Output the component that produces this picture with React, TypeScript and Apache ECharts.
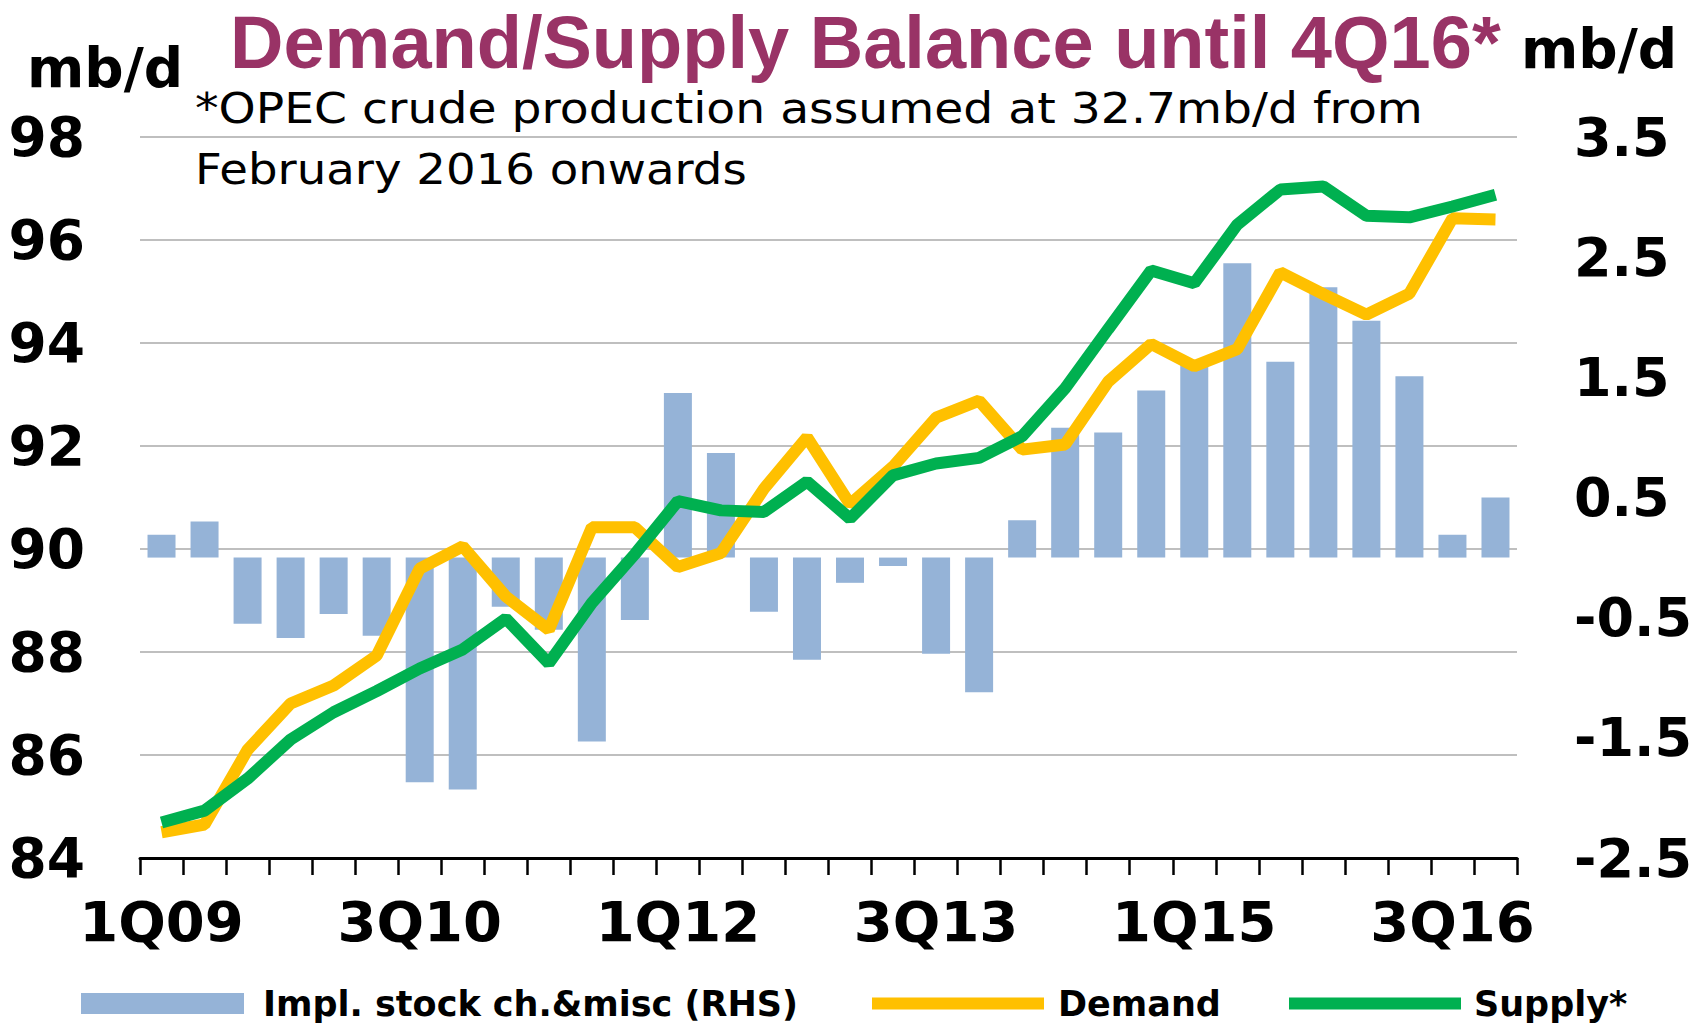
import React, { useEffect, useRef } from "react";
import * as echarts from "echarts";

// ---- Data ----
const quarters = [
  "1Q09", "2Q09", "3Q09", "4Q09",
  "1Q10", "2Q10", "3Q10", "4Q10",
  "1Q11", "2Q11", "3Q11", "4Q11",
  "1Q12", "2Q12", "3Q12", "4Q12",
  "1Q13", "2Q13", "3Q13", "4Q13",
  "1Q14", "2Q14", "3Q14", "4Q14",
  "1Q15", "2Q15", "3Q15", "4Q15",
  "1Q16", "2Q16", "3Q16", "4Q16",
];

// Implied stock change & misc (RHS), mb/d
const stockChange = [
  0.19, 0.3, -0.55, -0.67, -0.47, -0.65, -1.87, -1.93,
  -0.41, -0.6, -1.53, -0.52, 1.37, 0.87, -0.45, -0.85,
  -0.21, -0.07, -0.8, -1.12, 0.31, 1.08, 1.04, 1.39,
  1.62, 2.45, 1.63, 2.25, 1.97, 1.51, 0.19, 0.5,
];

// Demand (LHS), mb/d
const demand = [
  84.5, 84.65, 86.1, 87.0, 87.35, 87.93, 89.62, 90.05,
  89.08, 88.43, 90.42, 90.42, 89.65, 89.92, 91.17, 92.17,
  90.87, 91.6, 92.55, 92.88, 91.93, 92.03, 93.25, 93.98,
  93.55, 93.88, 95.37, 94.95, 94.55, 94.96, 96.42, 96.4,
];

// Supply* (LHS), mb/d
const supply = [
  84.69, 84.92, 85.54, 86.3, 86.83, 87.24, 87.68, 88.05,
  88.65, 87.78, 88.95, 89.9, 90.93, 90.75, 90.72, 91.31,
  90.59, 91.43, 91.66, 91.77, 92.19, 93.12, 94.27, 95.41,
  95.16, 96.3, 96.98, 97.04, 96.47, 96.44, 96.65, 96.88,
];

const leftAxisMin = 84;
const leftAxisMax = 98;
const leftAxisStep = 2;
const rightAxisMin = -2.5;
const rightAxisMax = 3.5;
const rightTickLabels = [-2.5, -1.5, -0.5, 0.5, 1.5, 2.5, 3.5];

const TITLE = "Demand/Supply Balance until 4Q16*";
const NOTE_LINE_1 = "*OPEC crude production assumed at 32.7mb/d from";
const NOTE_LINE_2 = "February 2016 onwards";
const UNIT = "mb/d";
const BAR_NAME = "Impl. stock ch.&misc (RHS)";
const DEMAND_NAME = "Demand";
const SUPPLY_NAME = "Supply*";

const FONT = "'DejaVu Sans', sans-serif";
const TITLE_FONT = "'Liberation Sans', Arial, sans-serif";

const BAR_COLOR = "#95B3D7";
const DEMAND_COLOR = "#FFC000";
const SUPPLY_COLOR = "#00B050";

export default function App() {
  const ref = useRef<HTMLDivElement | null>(null);

  useEffect(() => {
    if (!ref.current) return;
    const chart = echarts.init(ref.current, null, { renderer: "svg" });

    const legendText = {
      fontSize: 35,
      fontWeight: "bold",
      fontFamily: FONT,
      color: "#000",
    };

    const option: any = {
      animation: false,
      backgroundColor: "#ffffff",
      title: {
        text: TITLE,
        left: 230,
        top: 5,
        padding: 0,
        textStyle: {
          fontFamily: TITLE_FONT,
          fontSize: 74,
          fontWeight: "bold",
          color: "#993366",
        },
      },
      grid: { left: 140, right: 180, top: 137, bottom: 168, containLabel: false },
      xAxis: {
        type: "category",
        data: quarters,
        boundaryGap: true,
        axisLine: { show: true, onZero: false, lineStyle: { color: "#000", width: 3 } },
        axisTick: {
          show: true,
          interval: 0,
          alignWithLabel: false,
          length: 17,
          lineStyle: { color: "#000", width: 2.5 },
        },
        axisLabel: {
          interval: 5,
          margin: 35,
          fontSize: 56,
          fontWeight: "bold",
          fontFamily: FONT,
          color: "#000",
        },
        splitLine: { show: false },
      },
      yAxis: [
        {
          type: "value",
          position: "left",
          min: leftAxisMin,
          max: leftAxisMax,
          interval: leftAxisStep,
          axisLine: { show: false },
          axisTick: { show: false },
          axisLabel: {
            margin: 55,
            fontSize: 55,
            fontWeight: "bold",
            fontFamily: FONT,
            color: "#000",
          },
          splitLine: { show: true, lineStyle: { color: "#BFBFBF", width: 2 } },
        },
        {
          type: "value",
          position: "right",
          min: rightAxisMin,
          max: rightAxisMax,
          axisLine: { show: false },
          axisTick: { show: false },
          splitLine: { show: false },
          axisLabel: {
            customValues: rightTickLabels,
            formatter: (v: number) => v.toFixed(1),
            margin: 57,
            fontSize: 54,
            fontWeight: "bold",
            fontFamily: FONT,
            color: "#000",
          },
        },
      ],
      legend: [
        {
          data: [{ name: BAR_NAME, icon: "rect" }],
          left: 81,
          top: 986,
          padding: 0,
          itemWidth: 163,
          itemHeight: 21,
          selectedMode: false,
          textStyle: { ...legendText, padding: [0, 0, 0, 14] },
        },
        {
          data: [{ name: DEMAND_NAME, icon: "rect" }],
          left: 872,
          top: 986,
          padding: 0,
          itemWidth: 172,
          itemHeight: 12,
          selectedMode: false,
          textStyle: { ...legendText, padding: [0, 0, 0, 9] },
        },
        {
          data: [{ name: SUPPLY_NAME, icon: "rect" }],
          left: 1289,
          top: 986,
          padding: 0,
          itemWidth: 172,
          itemHeight: 12,
          selectedMode: false,
          textStyle: { ...legendText, padding: [0, 0, 0, 8] },
        },
      ],
      graphic: [
        {
          type: "text",
          x: 27,
          y: 40,
          style: {
            text: UNIT,
            font: `bold 55px ${FONT}`,
            fill: "#000",
            align: "left",
            verticalAlign: "top",
          },
        },
        {
          type: "text",
          x: 1521,
          y: 21,
          style: {
            text: UNIT,
            font: `bold 55px ${FONT}`,
            fill: "#000",
            align: "left",
            verticalAlign: "top",
          },
        },
        {
          type: "text",
          x: 195,
          y: 88,
          scaleX: 1.125,
          style: {
            text: NOTE_LINE_1,
            font: `42px ${FONT}`,
            fill: "#000",
            align: "left",
            verticalAlign: "top",
          },
        },
        {
          type: "text",
          x: 195,
          y: 148,
          scaleX: 1.11,
          style: {
            text: NOTE_LINE_2,
            font: `42px ${FONT}`,
            fill: "#000",
            align: "left",
            verticalAlign: "top",
          },
        },
      ],
      series: [
        {
          name: BAR_NAME,
          type: "bar",
          yAxisIndex: 1,
          data: stockChange,
          barWidth: 28,
          color: BAR_COLOR,
          itemStyle: { color: BAR_COLOR },
          z: 1,
        },
        {
          name: DEMAND_NAME,
          type: "line",
          yAxisIndex: 0,
          data: demand,
          symbol: "none",
          color: DEMAND_COLOR,
          itemStyle: { color: DEMAND_COLOR },
          lineStyle: { color: DEMAND_COLOR, width: 12 },
          z: 3,
        },
        {
          name: SUPPLY_NAME,
          type: "line",
          yAxisIndex: 0,
          data: supply,
          symbol: "none",
          color: SUPPLY_COLOR,
          itemStyle: { color: SUPPLY_COLOR },
          lineStyle: { color: SUPPLY_COLOR, width: 12 },
          z: 4,
        },
      ],
    };

    chart.setOption(option);
    return () => {
      chart.dispose();
    };
  }, []);

  return (
    <div
      ref={ref}
      style={{
        position: "fixed",
        left: 0,
        top: 0,
        width: 1697,
        height: 1026,
        background: "#ffffff",
      }}
    />
  );
}
